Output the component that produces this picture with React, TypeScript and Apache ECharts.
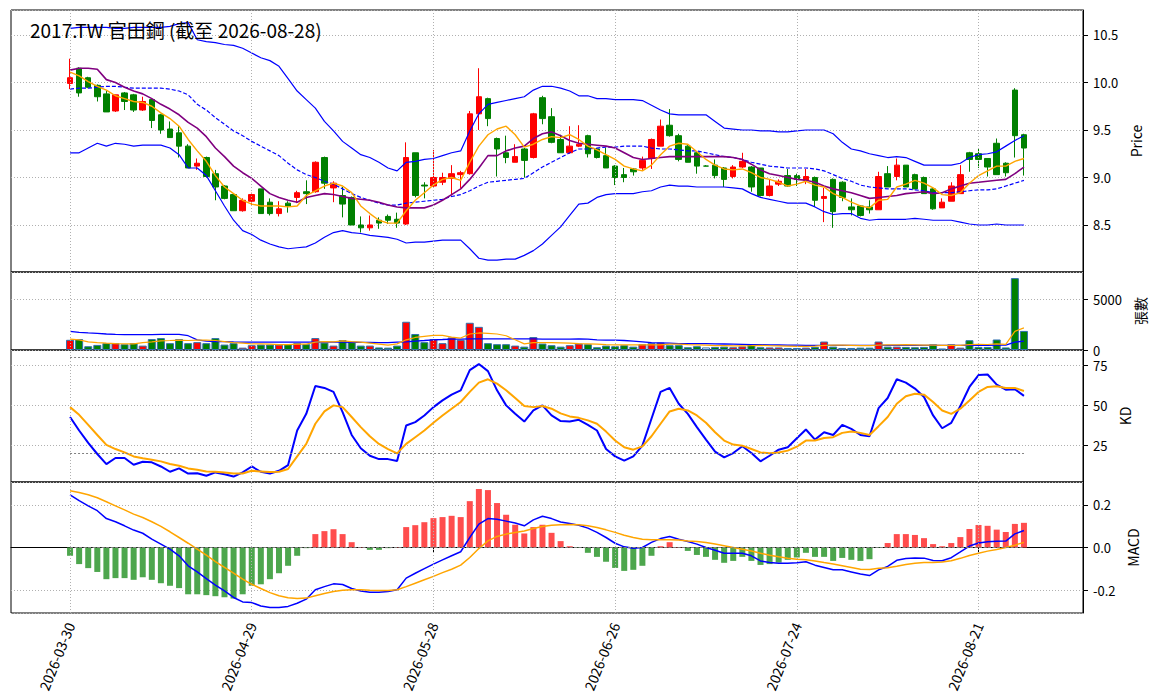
import React, { useEffect, useRef } from "react";
import * as echarts from "echarts";

const dates = [
  "2026-03-30","2026-03-31","2026-04-01","2026-04-02","2026-04-07","2026-04-08","2026-04-09","2026-04-10","2026-04-13","2026-04-14",
  "2026-04-15","2026-04-16","2026-04-17","2026-04-20","2026-04-21","2026-04-22","2026-04-23","2026-04-24","2026-04-27","2026-04-28",
  "2026-04-29","2026-04-30","2026-05-04","2026-05-05","2026-05-06","2026-05-07","2026-05-08","2026-05-11","2026-05-12","2026-05-13",
  "2026-05-14","2026-05-15","2026-05-18","2026-05-19","2026-05-20","2026-05-21","2026-05-22","2026-05-25","2026-05-26","2026-05-27",
  "2026-05-28","2026-05-29","2026-06-01","2026-06-02","2026-06-03","2026-06-04","2026-06-05","2026-06-08","2026-06-09","2026-06-10",
  "2026-06-11","2026-06-12","2026-06-15","2026-06-16","2026-06-17","2026-06-18","2026-06-22","2026-06-23","2026-06-24","2026-06-25",
  "2026-06-26","2026-06-29","2026-06-30","2026-07-01","2026-07-02","2026-07-03","2026-07-06","2026-07-07","2026-07-08","2026-07-09",
  "2026-07-10","2026-07-13","2026-07-14","2026-07-15","2026-07-16","2026-07-17","2026-07-20","2026-07-21","2026-07-22","2026-07-23",
  "2026-07-24","2026-07-27","2026-07-28","2026-07-29","2026-07-30","2026-07-31","2026-08-03","2026-08-04","2026-08-05","2026-08-06",
  "2026-08-07","2026-08-10","2026-08-11","2026-08-12","2026-08-13","2026-08-14","2026-08-17","2026-08-18","2026-08-19","2026-08-20",
  "2026-08-21","2026-08-24","2026-08-25","2026-08-26","2026-08-27","2026-08-28",
];
const tickDates = ["2026-03-30", "2026-04-29", "2026-05-28", "2026-06-26", "2026-07-24", "2026-08-21"];

const openP = [
  9.99,10.15,10.05,9.97,9.88,9.70,9.89,9.87,9.71,9.82,
  9.66,9.51,9.47,9.33,9.12,9.21,9.04,8.91,8.82,8.65,
  8.75,8.88,8.74,8.62,8.73,8.79,8.85,8.85,9.21,8.89,
  8.81,8.79,8.50,8.47,8.55,8.59,8.56,8.51,9.26,8.92,
  8.91,8.95,8.99,9.03,9.04,9.67,9.83,9.41,9.26,9.16,
  9.30,9.21,9.84,9.64,9.40,9.26,9.33,9.44,9.30,9.23,
  9.12,9.03,9.09,9.10,9.20,9.33,9.55,9.44,9.33,9.26,
  9.12,9.13,9.10,9.01,9.11,9.11,9.10,8.81,8.93,9.02,
  9.02,8.97,9.00,8.78,8.98,8.95,8.69,8.70,8.69,8.66,
  9.04,9.01,9.13,9.03,9.00,8.88,8.68,8.75,8.83,9.26,
  9.25,9.20,9.36,9.15,9.92,9.45,
];
const closeP = [
  10.05,9.89,9.95,9.85,9.69,9.87,9.80,9.71,9.80,9.60,
  9.50,9.42,9.33,9.10,9.15,9.01,8.90,8.78,8.65,8.76,
  8.82,8.62,8.62,8.67,8.70,8.84,8.83,9.16,8.94,8.94,
  8.72,8.50,8.47,8.50,8.52,8.55,8.52,9.21,8.81,8.91,
  9.00,9.00,9.04,9.05,9.67,9.85,9.62,9.30,9.21,9.22,
  9.18,9.67,9.62,9.37,9.26,9.33,9.35,9.25,9.21,9.10,
  9.00,9.00,9.06,9.18,9.40,9.54,9.44,9.19,9.16,9.12,
  9.12,9.02,8.98,9.11,9.17,8.90,8.81,8.91,8.96,8.91,
  8.98,9.01,8.76,8.80,8.64,8.79,8.66,8.60,8.66,9.01,
  8.90,9.13,8.90,8.88,8.83,8.67,8.74,8.91,9.03,9.19,
  9.19,9.11,9.03,9.05,9.44,9.31,
];
const lowP = [
  9.93,9.85,9.94,9.80,9.69,9.69,9.71,9.69,9.70,9.52,
  9.46,9.42,9.21,9.10,9.08,9.00,8.76,8.77,8.65,8.64,
  8.70,8.62,8.60,8.59,8.63,8.73,8.72,8.84,8.88,8.74,
  8.58,8.50,8.42,8.44,8.46,8.51,8.47,8.50,8.79,8.78,
  8.90,8.92,8.81,8.89,9.03,9.50,9.54,9.01,9.15,9.16,
  9.00,9.20,9.56,9.36,9.26,9.25,9.32,9.21,9.20,9.10,
  8.92,8.95,9.02,9.08,9.09,9.33,9.43,9.17,9.16,9.04,
  9.12,8.99,8.90,8.99,9.10,8.85,8.80,8.80,8.91,8.90,
  8.91,8.93,8.69,8.53,8.47,8.75,8.60,8.59,8.62,8.66,
  8.90,8.97,8.90,8.88,8.83,8.66,8.68,8.75,8.83,9.06,
  9.10,9.01,9.03,9.01,9.21,9.02,
];
const highP = [
  10.25,10.16,10.06,9.98,9.91,9.87,9.90,9.88,9.85,9.83,
  9.67,9.59,9.54,9.35,9.20,9.22,9.08,8.92,8.83,8.78,
  8.84,8.88,8.78,8.75,8.75,8.86,8.97,9.17,9.22,8.96,
  8.90,8.80,8.59,8.60,8.58,8.61,8.63,9.37,9.26,8.95,
  9.29,9.05,9.13,9.07,9.70,10.15,9.84,9.42,9.44,9.35,
  9.31,9.68,9.86,9.73,9.45,9.54,9.55,9.45,9.31,9.31,
  9.13,9.10,9.10,9.22,9.41,9.61,9.72,9.46,9.34,9.27,
  9.13,9.19,9.11,9.13,9.26,9.12,9.10,8.98,8.98,9.09,
  9.04,9.09,9.01,8.89,8.99,8.96,8.78,8.71,8.76,9.06,
  9.12,9.20,9.13,9.04,9.01,8.89,8.78,8.95,9.13,9.27,
  9.30,9.20,9.41,9.16,9.94,9.46,
];

const ma5 = [
  10.11,10.07,10.01,9.96,9.92,9.86,9.83,9.80,9.79,9.75,
  9.68,9.62,9.54,9.40,9.28,9.17,9.02,8.90,8.83,8.76,
  8.72,8.70,8.70,8.70,8.69,8.70,8.81,8.86,8.91,8.94,
  8.91,8.84,8.70,8.62,8.55,8.52,8.52,8.65,8.76,8.84,
  8.92,8.98,9.00,8.97,9.16,9.33,9.45,9.51,9.54,9.45,
  9.32,9.35,9.40,9.43,9.42,9.45,9.40,9.33,9.29,9.24,
  9.19,9.12,9.09,9.07,9.13,9.24,9.33,9.36,9.35,9.27,
  9.19,9.13,9.09,9.08,9.09,9.05,9.00,8.98,8.95,8.91,
  8.93,8.96,8.92,8.90,8.83,8.79,8.74,8.70,8.68,8.76,
  8.77,8.90,8.93,8.97,8.94,8.89,8.82,8.81,8.84,8.94,
  9.02,9.07,9.12,9.12,9.17,9.20,
];
const ma10 = [
  10.13,10.15,10.15,10.14,10.03,10.00,9.95,9.91,9.88,9.83,
  9.77,9.72,9.66,9.58,9.52,9.43,9.31,9.22,9.12,9.05,
  8.99,8.91,8.83,8.79,8.76,8.74,8.79,8.81,8.83,8.82,
  8.80,8.78,8.77,8.76,8.74,8.71,8.69,8.68,8.68,8.68,
  8.71,8.76,8.82,8.88,8.98,9.10,9.23,9.23,9.28,9.31,
  9.33,9.41,9.46,9.48,9.44,9.39,9.36,9.35,9.34,9.33,
  9.31,9.26,9.21,9.19,9.20,9.21,9.22,9.22,9.22,9.22,
  9.22,9.22,9.22,9.21,9.19,9.14,9.08,9.04,9.02,9.00,
  8.98,8.97,8.95,8.91,8.88,8.86,8.84,8.81,8.78,8.79,
  8.80,8.81,8.83,8.84,8.85,8.83,8.84,8.88,8.91,8.94,
  8.95,8.96,8.97,8.98,9.04,9.11,
];
const bbUpper = [
  10.57,10.58,10.58,10.58,10.58,10.57,10.57,10.58,10.58,10.58,
  10.58,10.59,10.62,10.63,10.45,10.43,10.42,10.40,10.39,10.36,
  10.31,10.26,10.23,10.17,10.04,9.91,9.82,9.73,9.59,9.49,
  9.38,9.31,9.24,9.21,9.16,9.10,9.07,9.16,9.17,9.19,
  9.20,9.23,9.26,9.28,9.49,9.67,9.77,9.79,9.81,9.83,
  9.85,9.92,9.96,9.96,9.94,9.91,9.86,9.86,9.83,9.83,
  9.82,9.82,9.82,9.81,9.76,9.71,9.67,9.66,9.66,9.66,
  9.66,9.59,9.52,9.51,9.50,9.50,9.49,9.49,9.48,9.48,
  9.49,9.50,9.50,9.50,9.46,9.37,9.30,9.28,9.25,9.23,
  9.21,9.22,9.21,9.17,9.13,9.13,9.13,9.13,9.15,9.21,
  9.24,9.25,9.27,9.33,9.39,9.44,
];
const bbMid = [
  9.93,9.94,9.94,9.95,9.96,9.96,9.95,9.94,9.94,9.94,
  9.94,9.93,9.91,9.87,9.77,9.71,9.63,9.56,9.49,9.44,
  9.38,9.33,9.28,9.23,9.15,9.08,9.03,9.00,8.96,8.93,
  8.88,8.83,8.79,8.76,8.73,8.71,8.71,8.73,8.74,8.75,
  8.76,8.77,8.80,8.82,8.86,8.91,8.95,8.96,8.97,8.98,
  8.99,9.05,9.11,9.16,9.21,9.26,9.30,9.30,9.31,9.32,
  9.32,9.33,9.33,9.33,9.31,9.30,9.30,9.29,9.28,9.28,
  9.26,9.24,9.22,9.21,9.19,9.16,9.14,9.12,9.11,9.10,
  9.10,9.10,9.09,9.07,9.03,8.99,8.96,8.92,8.90,8.89,
  8.88,8.88,8.88,8.87,8.86,8.84,8.84,8.84,8.85,8.86,
  8.87,8.87,8.88,8.91,8.94,8.97,
];
const bbLower = [
  9.26,9.26,9.31,9.36,9.33,9.36,9.35,9.33,9.34,9.34,
  9.34,9.31,9.24,9.10,9.10,9.02,8.86,8.70,8.55,8.44,
  8.40,8.34,8.30,8.27,8.25,8.26,8.27,8.31,8.37,8.42,
  8.44,8.42,8.41,8.39,8.38,8.37,8.35,8.31,8.32,8.32,
  8.33,8.34,8.34,8.34,8.25,8.15,8.13,8.13,8.14,8.14,
  8.18,8.23,8.30,8.39,8.48,8.60,8.72,8.73,8.79,8.82,
  8.83,8.83,8.83,8.85,8.86,8.90,8.92,8.91,8.91,8.90,
  8.90,8.90,8.90,8.89,8.88,8.83,8.79,8.77,8.75,8.73,
  8.73,8.73,8.69,8.64,8.61,8.62,8.62,8.57,8.55,8.56,
  8.56,8.56,8.56,8.57,8.56,8.55,8.55,8.55,8.53,8.51,
  8.50,8.50,8.51,8.50,8.50,8.50,
];

const volume = [
  1000,1070,370,500,670,670,570,670,430,1070,
  1170,670,1070,670,770,670,1170,530,670,230,
  470,530,530,530,570,670,570,1170,730,430,
  970,770,430,430,250,230,430,2770,1570,770,
  1070,670,1230,1000,2670,2270,670,570,570,430,
  330,1270,630,470,330,470,630,570,270,430,
  370,470,330,570,670,730,470,470,270,370,
  250,300,330,270,350,560,270,250,250,200,
  200,230,300,830,330,200,200,230,230,830,
  330,330,300,270,300,560,150,560,230,960,
  300,300,1030,250,7050,1870,
];
const volMa5 = [
  1070,1000,800,730,670,630,600,600,730,800,
  900,930,970,930,970,970,930,830,730,670,
  600,600,570,530,530,570,570,770,830,800,
  900,830,770,670,570,470,600,1000,1230,1330,
  1430,1430,1270,1170,1570,1670,1630,1570,1400,1000,
  600,730,730,730,700,670,630,600,570,530,
  500,500,500,500,500,500,570,570,530,500,
  470,430,420,400,400,420,450,420,400,380,
  360,360,380,450,480,470,450,420,420,480,
  500,500,520,500,480,470,450,460,450,520,
  560,540,600,560,1830,2170,
];
const volMa20 = [
  1830,1730,1670,1630,1570,1530,1500,1500,1500,1500,
  1530,1530,1530,1400,1000,870,830,830,800,780,
  770,770,770,770,770,770,770,770,770,770,
  770,760,750,740,730,730,770,800,870,930,
  1000,1030,1070,1070,1100,1100,1100,1100,1100,1100,
  1100,1100,1070,1070,1070,1070,1100,1070,1000,970,
  970,930,870,800,730,700,670,630,630,630,
  620,600,590,570,550,530,520,500,490,480,
  470,460,460,460,460,450,450,450,450,450,
  450,450,450,450,450,450,450,450,450,450,
  450,450,480,480,770,880,
];

const kLine = [
  42.5,34.1,26.3,19.4,13.1,16.9,16.9,12.7,14.6,14.2,
  11.6,8.3,10.4,7.2,7.4,5.8,7.9,6.8,5.3,7.9,
  11.6,8.3,7.2,8.9,12.5,34.1,44.5,61.9,60.7,58.2,
  45.6,31.3,23.0,18.3,16.2,16.2,15.0,37.2,39.3,43.5,
  48.7,52.9,56.5,59.2,71.8,75.6,71.2,59.2,49.8,44.5,
  39.7,46.6,49.8,43.5,40.0,39.7,40.8,37.6,34.1,22.5,
  17.9,15.2,17.9,24.6,41.4,58.2,60.7,50.8,44.5,36.2,
  28.4,20.9,17.3,20.0,24.2,20.0,14.8,18.3,22.1,23.6,
  29.2,34.7,28.4,33.0,31.3,37.6,35.1,31.3,30.5,48.1,
  54.4,66.1,64.0,60.3,55.0,43.5,35.5,38.9,49.4,61.3,
  68.7,69.1,62.8,59.6,59.9,55.7,
];
const dLine = [
  48.7,43.9,37.6,31.3,25.1,22.5,20.4,17.9,16.7,15.8,
  14.8,13.1,12.1,10.4,9.5,8.5,8.3,7.9,7.2,7.2,
  8.9,8.5,8.1,8.3,10.0,17.9,25.7,38.3,46.0,49.8,
  48.7,42.5,36.2,30.5,25.7,22.5,19.8,25.7,29.9,34.1,
  38.9,43.5,47.7,51.9,58.2,64.0,66.1,63.4,59.2,54.4,
  49.4,48.7,49.4,47.7,44.8,42.9,42.0,40.4,38.3,33.4,
  27.8,23.6,22.1,24.2,30.5,38.3,46.0,47.7,46.6,43.5,
  38.9,33.0,27.8,25.3,24.6,22.5,20.4,19.8,20.4,21.5,
  24.0,27.8,27.8,29.4,29.9,32.6,33.4,32.6,31.3,36.8,
  42.5,50.8,55.5,57.1,56.5,51.9,46.6,44.5,47.7,52.9,
  58.2,61.3,61.7,60.7,60.7,58.8,
];

const macdLine = [
  0.248,0.220,0.196,0.173,0.136,0.121,0.102,0.082,0.067,0.039,
  0.016,-0.008,-0.039,-0.086,-0.115,-0.146,-0.177,-0.204,-0.235,-0.256,
  -0.259,-0.275,-0.282,-0.282,-0.277,-0.262,-0.243,-0.199,-0.184,-0.171,
  -0.174,-0.193,-0.205,-0.210,-0.210,-0.207,-0.199,-0.144,-0.121,-0.099,
  -0.078,-0.058,-0.039,-0.020,0.047,0.110,0.136,0.133,0.124,0.115,
  0.102,0.130,0.147,0.136,0.120,0.113,0.105,0.091,0.071,0.047,
  0.020,0.003,-0.003,0.000,0.024,0.042,0.052,0.039,0.028,0.016,
  0.000,-0.013,-0.027,-0.027,-0.027,-0.039,-0.063,-0.071,-0.074,-0.074,
  -0.072,-0.067,-0.083,-0.094,-0.105,-0.105,-0.115,-0.125,-0.132,-0.105,
  -0.089,-0.060,-0.052,-0.049,-0.050,-0.061,-0.062,-0.048,-0.021,0.007,
  0.021,0.027,0.029,0.030,0.064,0.080,
];
const signalLine = [
  0.267,0.259,0.248,0.234,0.215,0.196,0.177,0.157,0.141,0.121,
  0.099,0.074,0.047,0.020,-0.008,-0.036,-0.066,-0.094,-0.121,-0.149,
  -0.173,-0.193,-0.212,-0.227,-0.236,-0.240,-0.238,-0.227,-0.216,-0.207,
  -0.201,-0.199,-0.199,-0.201,-0.202,-0.202,-0.199,-0.184,-0.168,-0.152,
  -0.136,-0.118,-0.102,-0.083,-0.047,-0.005,0.031,0.052,0.063,0.071,
  0.078,0.089,0.099,0.105,0.107,0.108,0.107,0.102,0.094,0.083,
  0.071,0.058,0.047,0.039,0.036,0.036,0.036,0.035,0.031,0.028,
  0.024,0.016,0.008,0.000,-0.008,-0.016,-0.027,-0.036,-0.044,-0.050,
  -0.055,-0.058,-0.063,-0.071,-0.078,-0.086,-0.094,-0.102,-0.103,-0.098,
  -0.095,-0.088,-0.080,-0.074,-0.071,-0.070,-0.068,-0.062,-0.051,-0.038,
  -0.027,-0.017,-0.009,0.000,0.011,0.024,
];
const histogram = [
  -0.039,-0.078,-0.097,-0.115,-0.149,-0.144,-0.144,-0.152,-0.140,-0.152,
  -0.168,-0.180,-0.191,-0.220,-0.220,-0.224,-0.229,-0.234,-0.240,-0.220,
  -0.180,-0.173,-0.149,-0.121,-0.086,-0.039,-0.003,0.063,0.077,0.086,
  0.063,0.025,0.002,-0.011,-0.011,-0.003,0.002,0.096,0.105,0.119,
  0.138,0.143,0.149,0.143,0.218,0.275,0.270,0.209,0.154,0.107,
  0.066,0.096,0.107,0.069,0.030,0.006,-0.002,-0.025,-0.044,-0.067,
  -0.096,-0.110,-0.105,-0.086,-0.039,0.006,0.025,0.002,-0.016,-0.035,
  -0.044,-0.058,-0.072,-0.063,-0.044,-0.063,-0.082,-0.078,-0.071,-0.058,
  -0.047,-0.025,-0.044,-0.044,-0.063,-0.049,-0.058,-0.063,-0.055,-0.002,
  0.021,0.063,0.063,0.059,0.044,0.016,0.006,0.021,0.049,0.087,
  0.106,0.102,0.084,0.073,0.111,0.116,
];

const kdRefLevels = [80, 20];
const titleText = "2017.TW 官田鋼 (截至 2026-08-28)";

// ---------- layout / style ----------
const PAD = 6;
const N = dates.length;
const categories = [
  ...Array.from({ length: PAD }, (_, i) => `pre${i}`),
  ...dates,
  ...Array.from({ length: PAD }, (_, i) => `post${i}`),
];
const FONT = "'Noto Sans CJK TC', 'Noto Sans CJK SC', sans-serif";
const RED = "#ff0000";
const GREEN = "#008000";
const GRID_LINE = { color: "#b0b0b0", type: [1, 2], width: 1 };
const LEFT = 11;
const RIGHT = 72;
const panels = [
  { top: 10, height: 262 },
  { top: 272, height: 78 },
  { top: 350, height: 132 },
  { top: 482, height: 131 },
];

const tickSet = new Set(tickDates);
const isTick = (idx: number) => tickSet.has(categories[idx]);

const xy = (arr: number[]) => arr.map((v, i) => [i + PAD, v]);

const vGrid = {
  silent: true,
  symbol: ["none", "none"],
  label: { show: false },
  lineStyle: { color: "#b0b0b0", type: [1, 2], width: 1 },
  data: tickDates.map((d) => ({ xAxis: d })),
};

function buildOption() {
  const grid = panels.map((p) => ({
    left: LEFT,
    right: RIGHT,
    top: p.top,
    height: p.height,
    show: true,
    borderColor: "#000",
    borderWidth: 1,
    backgroundColor: "transparent",
  }));

  const xAxis = panels.map((_, g) => ({
    type: "category",
    gridIndex: g,
    data: categories,
    boundaryGap: true,
    axisLine: { show: g === 3, lineStyle: { color: "#000" } },
    axisTick: {
      show: g === 3,
      alignWithLabel: true,
      interval: (i: number) => isTick(i),
      length: 5,
      lineStyle: { color: "#000" },
    },
    axisLabel: {
      show: g === 3,
      interval: (i: number) => isTick(i),
      rotate: 68,
      margin: 10,
      fontSize: 14,
      color: "#000",
      fontFamily: FONT,
    },
    splitLine: { show: false },
  }));

  const yBase = (g: number, min: number, max: number, step: number, name: string, gap: number, fmt: (v: number) => string, showMin = false) => ({
    type: "value",
    gridIndex: g,
    position: "right",
    min,
    max,
    minInterval: step,
    maxInterval: step,
    axisLine: { show: true, lineStyle: { color: "#000" } },
    axisTick: { show: true, length: 5, lineStyle: { color: "#000" } },
    axisLabel: {
      margin: 10,
      showMinLabel: showMin,
      showMaxLabel: false,
      fontSize: 13,
      lineHeight: 11,
      color: "#000",
      fontFamily: FONT,
      formatter: fmt,
    },
    splitLine: { show: true, lineStyle: GRID_LINE },
    name,
    nameLocation: "middle",
    nameRotate: 90,
    nameGap: gap,
    nameTextStyle: { fontSize: 14, color: "#000", fontFamily: FONT },
  });

  const yAxis = [
    yBase(0, 8.005, 10.763, 0.5, "Price", 43, (v) => v.toFixed(1)),
    yBase(1, 0, 7650, 5000, "張數", 44, (v) => String(Math.round(v)), true),
    yBase(2, 1.9, 84.4, 25, "KD", 32, (v) => String(Math.round(v))),
    yBase(3, -0.308, 0.308, 0.2, "MACD", 42, (v) => v.toFixed(1)),
  ];

  const candleData = dates.map((_, i) => {
    const item: any = { value: [i + PAD, openP[i], closeP[i], lowP[i], highP[i]] };
    if (openP[i] === closeP[i]) {
      item.itemStyle = { color: GREEN, color0: GREEN, borderColor: GREEN, borderColor0: GREEN };
    }
    return item;
  });

  const volData = dates.map((_, i) => {
    const up = closeP[i] > openP[i];
    const flat = closeP[i] === openP[i];
    return {
      value: [i + PAD, volume[i]],
      itemStyle: { color: flat ? "#ffffff" : up ? RED : GREEN },
    };
  });

  const histData = histogram.map((v, i) => ({
    value: [i + PAD, v],
    itemStyle: { color: v >= 0 ? "#ff4d4d" : "#4da64d" },
  }));

  const line = (g: number, data: number[], color: string, width: number, extra: any = {}) => ({
    type: "line",
    xAxisIndex: g,
    yAxisIndex: g,
    data: xy(data),
    showSymbol: false,
    symbol: "none",
    silent: true,
    lineStyle: { color, width, ...(extra.lineStyle || {}) },
    z: 3,
    ...(extra.rest || {}),
  });

  // one helper series per panel carrying the vertical date grid lines
  const gridHolders = panels.map((_, g) => ({
    type: "line",
    xAxisIndex: g,
    yAxisIndex: g,
    data: [],
    silent: true,
    z: 1,
    markLine: vGrid,
  }));

  const series: any[] = [
    ...gridHolders,
    {
      type: "candlestick",
      xAxisIndex: 0,
      yAxisIndex: 0,
      data: candleData,
      encode: { x: 0, y: [1, 2, 3, 4] },
      barWidth: 6,
      silent: true,
      itemStyle: {
        color: RED,
        color0: GREEN,
        borderColor: RED,
        borderColor0: GREEN,
        borderWidth: 1,
      },
      z: 2,
    },
    line(0, bbUpper, "#0000ff", 1.2),
    line(0, bbLower, "#0000ff", 1.2),
    line(0, bbMid, "#0000ff", 1.2, { lineStyle: { type: [4, 2] } }),
    line(0, ma10, "#800080", 1.6),
    line(0, ma5, "#ffa500", 1.4),
    {
      type: "bar",
      xAxisIndex: 1,
      yAxisIndex: 1,
      data: volData,
      barWidth: 8,
      silent: true,
      itemStyle: { borderColor: "#2f6fad", borderWidth: 1 },
      z: 2,
    },
    line(1, volMa20, "#0000ff", 1.3),
    line(1, volMa5, "#ffa500", 1.2),
    line(2, kLine, "#0000ff", 2, {
      rest: {
        markLine: {
          silent: true,
          symbol: ["none", "none"],
          label: { show: false },
          lineStyle: { color: "#808080", type: [2, 2], width: 1 },
          data: kdRefLevels.map((lv) => [
            { coord: [dates[0], lv] },
            { coord: [dates[N - 1], lv] },
          ]),
        },
      },
    }),
    line(2, dLine, "#ffa500", 2),
    {
      type: "bar",
      xAxisIndex: 3,
      yAxisIndex: 3,
      data: histData,
      barWidth: 6,
      silent: true,
      z: 2,
    },
    line(3, macdLine, "#0000ff", 1.5, {
      rest: {
        markLine: {
          silent: true,
          symbol: ["none", "none"],
          label: { show: false },
          lineStyle: { color: "#808080", type: [3, 1.5], width: 1 },
          data: [[{ coord: [dates[0], 0] }, { coord: [dates[N - 1], 0] }]],
        },
      },
    }),
    line(3, signalLine, "#ffa500", 1.5),
  ];

  return {
    animation: false,
    backgroundColor: "#ffffff",
    title: {
      text: titleText,
      left: 25,
      top: 15,
      textStyle: { fontFamily: FONT, fontSize: 19, fontWeight: "normal", color: "#000" },
      z: 10,
    },
    grid,
    xAxis,
    yAxis,
    series,
  };
}

export default function App() {
  const ref = useRef<HTMLDivElement>(null);
  useEffect(() => {
    if (!ref.current) return;
    const chart = echarts.init(ref.current, null, { renderer: "svg" });
    chart.setOption(buildOption() as any);
    return () => chart.dispose();
  }, []);
  return (
    <div
      ref={ref}
      style={{ position: "fixed", left: 0, top: 0, width: 1155, height: 698, background: "#fff" }}
    />
  );
}
